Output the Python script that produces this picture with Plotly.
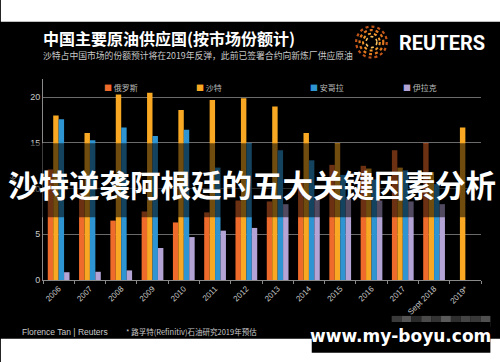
import plotly.graph_objects as go

# ---- data ----
categories = ["2006", "2007", "2008", "2009", "2010", "2011", "2012", "2013",
              "2014", "2015", "2016", "2017", "Sept 2018", "2019*"]
russia = [12.1, 9.5, 6.5, 7.5, 6.3, 7.4, 8.7, 8.6, 10.7, 12.6, 12.5, 14.2, 15.0, None]
saudi = [18.0, 16.1, 20.3, 20.5, 18.6, 19.7, 19.9, 19.0, 16.1, 15.0, 12.2, 12.3, 11.8, 16.7]
angola = [17.6, 15.3, 16.7, 15.75, 16.45, 12.3, 15.0, 14.2, 13.1, 11.5, 11.0, 12.0, 10.5, None]
iraq = [0.85, 0.9, 1.05, 3.5, 4.7, 5.4, 5.7, 8.3, 8.8, 8.9, 8.7, 8.6, 8.3, None]
series_names = ["俄罗斯", "沙特", "安哥拉", "伊拉克"]
y_ticks = [0, 5, 10, 15, 20]

colors = ["#EF6B2C", "#F8A823", "#2E95D2", "#B4A4D6"]

W, H = 500, 362
L, R = 37.7, 481.5
T, B = 78.5, 280.0
YMAX = 22


def px(x):
    return (x - L) / (R - L)


def py(y):
    return (B - y) / (B - T)


fig = go.Figure()
for name, vals, c in zip(series_names, [russia, saudi, angola, iraq], colors):
    fig.add_trace(go.Bar(x=categories, y=vals, name=name, marker_color=c,
                         marker_line_width=0, showlegend=False))

CJK = "Noto Sans CJK SC"
LAT = "Liberation Sans, Noto Sans CJK SC"

fig.update_layout(
    width=W, height=H,
    margin=dict(l=L, r=W - R, t=T, b=H - B, pad=0),
    paper_bgcolor="black", plot_bgcolor="black",
    barmode="group", bargap=0.305, bargroupgap=0,
    font=dict(family=LAT, color="#c8c8c8", size=9),
    xaxis=dict(showgrid=False, showline=True, linecolor="#8a8a8a", linewidth=1,
               ticks="outside", ticklen=3, tickcolor="#8a8a8a",
               tickson="boundaries", tickangle=-45,
               tickfont=dict(size=8, color="#c8c8c8"), fixedrange=True),
    yaxis=dict(range=[0, YMAX], tickvals=y_ticks, showgrid=True, gridcolor="#6a6a6a",
               gridwidth=1, showline=True, linecolor="#8a8a8a", zeroline=False,
               ticks="", tickfont=dict(size=9, color="#c8c8c8"),
               title=dict(text="%", font=dict(size=9, color="#aaaaaa"), standoff=12)),
)

shapes = []
# dark translucent band across the chart
shapes.append(dict(type="rect", xref="paper", yref="paper", x0=px(-5), x1=px(505),
                   y0=py(217), y1=py(143), fillcolor="black", opacity=0.55,
                   line_width=0, layer="above"))
# white strips top and bottom (screenshot frame)
shapes.append(dict(type="rect", xref="paper", yref="paper", x0=px(-5), x1=px(505),
                   y0=py(21), y1=py(-5), fillcolor="white", line_width=0, layer="above"))
shapes.append(dict(type="rect", xref="paper", yref="paper", x0=px(-5), x1=px(505),
                   y0=py(370), y1=py(339), fillcolor="white", line_width=0, layer="above"))
# mosaic strip
mosaic = ["#3a3a3a", "#555555", "#2a2a2a", "#4a4a4a", "#333333", "#5a5a5a", "#2e2e2e",
          "#444444", "#383838", "#505050"]
for i, mc in enumerate(mosaic):
    x0 = 391 + i * 10
    shapes.append(dict(type="rect", xref="paper", yref="paper", x0=px(x0), x1=px(x0 + 10),
                       y0=py(327), y1=py(316), fillcolor=mc, line_width=0, layer="above"))
# watermark box
shapes.append(dict(type="rect", xref="paper", yref="paper", x0=px(310), x1=px(491),
                   y0=py(353), y1=py(322), fillcolor="black", line_width=0, layer="above"))
# Reuters logo rings
cx, cy = 370.5, 41.5
for r, col, w in [(15.5, "#c2561a", 2.2), (12, "#e0781f", 2.2), (8.5, "#f39a2c", 2.0),
                  (5.5, "#f8c060", 1.6)]:
    shapes.append(dict(type="circle", xref="paper", yref="paper",
                       x0=px(cx - r), x1=px(cx + r), y0=py(cy + r), y1=py(cy - r),
                       line=dict(color=col, width=w, dash="dot"), layer="above"))
fig.update_layout(shapes=shapes)

ann = []
ann.append(dict(text="<b>中国主要原油供应国(按市场份额计)</b>", x=px(36), y=py(37),
                xref="paper", yref="paper", xanchor="left", yanchor="middle",
                showarrow=False, font=dict(family=CJK, size=16, color="white")))
ann.append(dict(text="沙特占中国市场的份额预计将在2019年反弹，此前已签署合约向新炼厂供应原油",
                x=px(36), y=py(55), xref="paper", yref="paper", xanchor="left",
                yanchor="middle", showarrow=False,
                font=dict(family=CJK, size=8.8, color="#c8c8c8")))
ann.append(dict(text="<b>REUTERS</b>", x=px(396), y=py(42), xref="paper", yref="paper",
                xanchor="left", yanchor="middle", showarrow=False,
                font=dict(family="Roboto, Liberation Sans", size=20, color="white")))
# legend
for name, c, lx in zip(series_names, colors, [97, 191, 306, 400]):
    ann.append(dict(text=f'<span style="color:{c}">■</span> {name}', x=px(lx), y=py(87),
                    xref="paper", yref="paper", xanchor="left", yanchor="middle",
                    showarrow=False, font=dict(family=CJK, size=8, color="#bbbbbb")))
# footer
ann.append(dict(text="Florence Tan | Reuters", x=px(14), y=py(332), xref="paper",
                yref="paper", xanchor="left", yanchor="middle", showarrow=False,
                font=dict(family=LAT, size=8.5, color="#c8c8c8")))
ann.append(dict(text="* 路孚特(Refinitiv)石油研究2019年预估", x=px(120), y=py(332),
                xref="paper", yref="paper", xanchor="left", yanchor="middle",
                showarrow=False, font=dict(family=CJK, size=7.5, color="#c8c8c8")))
# overlay headline
ann.append(dict(text="<b>沙特逆袭阿根廷的五大关键因素分析</b>", x=px(249), y=py(184),
                xref="paper", yref="paper", xanchor="center", yanchor="middle",
                showarrow=False, font=dict(family=CJK, size=30.5, color="white")))
# watermark
ann.append(dict(text="<b>www.my-boyu.com</b>", x=px(400), y=py(336), xref="paper",
                yref="paper", xanchor="center", yanchor="middle", showarrow=False,
                font=dict(family="DejaVu Sans, Liberation Sans", size=17, color="white")))
fig.update_layout(annotations=ann)

fig.write_html("out.html", config={"displayModeBar": False},
               post_script="document.body.style.margin='0';document.body.style.padding='0';")
